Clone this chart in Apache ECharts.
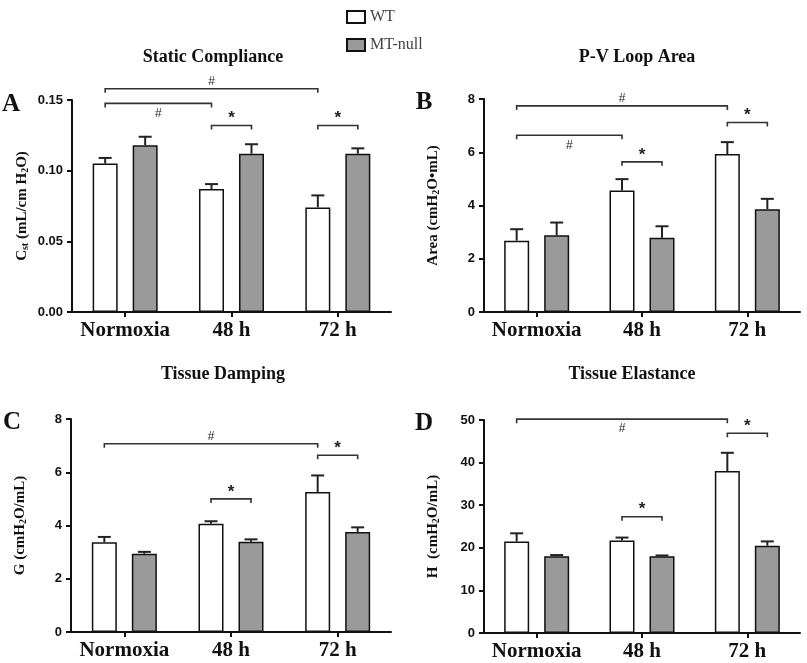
<!DOCTYPE html>
<html>
<head>
<meta charset="utf-8">
<script src="https://cdn.jsdelivr.net/npm/echarts@6/dist/echarts.min.js"></script>
<style>
	html,body{margin:0;padding:0;background:#fff;}
	#main{width:807px;height:663px;}
</style>
</head>
<body>
<div id="main"></div>
<script>
// 分组
var categories=["Normoxia","48 h","72 h"];
var seriesNames=["WT","MT-null"];

// A 静态顺应性
var cstWT=[0.105,0.087,0.074],
	cstWTErr=[0.004,0.0035,0.0085],
	cstMT=[0.118,0.112,0.112],
	cstMTErr=[0.006,0.0067,0.0038];
// B P-V环面积
var areaWT=[2.68,4.56,5.93],
	areaWTErr=[0.43,0.43,0.45],
	areaMT=[2.88,2.79,3.86],
	areaMTErr=[0.48,0.43,0.39];
// C 组织阻尼
var gWT=[3.37,4.07,5.26],
	gWTErr=[0.20,0.09,0.62],
	gMT=[2.94,3.39,3.76],
	gMTErr=[0.07,0.09,0.17];
// D 组织弹性
var hWT=[21.5,21.7,38.0],
	hWTErr=[1.9,0.7,4.3],
	hMT=[18.0,18.0,20.5],
	hMTErr=[0.3,0.2,1.0];

// 显著性括号: [起始组, 起始柱(0=WT,1=MT), 结束组, 结束柱, y值, 符号, 符号位置]
var bracketsA=[[0,0,2,0,0.158,"#","above"],[0,0,1,0,0.1476,"#","below"],[1,0,1,1,0.132,"*","above"],[2,0,2,1,0.132,"*","above"]];
var bracketsB=[[0,0,2,0,7.74,"#","above"],[0,0,1,0,6.64,"#","below"],[1,0,1,1,5.64,"*","above"],[2,0,2,1,7.12,"*","above"]];
var bracketsC=[[0,0,2,0,7.07,"#","above"],[1,0,1,1,5.0,"*","above"],[2,0,2,1,6.64,"*","above"]];
var bracketsD=[[0,0,2,0,50.2,"#","below"],[1,0,1,1,27.3,"*","above"],[2,0,2,1,46.9,"*","above"]];

// 坐标轴
var yTicksA={min:0,max:0.15,interval:0.05,fmt:function(v){return v.toFixed(2);}};
var yTicksB={min:0,max:8,interval:2};
var yTicksC={min:0,max:8,interval:2};
var yTicksD={min:0,max:50,interval:10};

var SERIF="'Liberation Serif','Times New Roman',serif";
var SANS="'Liberation Sans',Arial,sans-serif";
var BAR_W=25,BAR_OFF=20;

var panels=[
	{grid:{left:72,top:100,width:319,height:212},y:yTicksA,wt:cstWT,wtE:cstWTErr,mt:cstMT,mtE:cstMTErr,br:bracketsA,
		name:"{n|C}{s|st}{n| (mL/cm H}{s|2}{n|O)}",gap:42},
	{grid:{left:484,top:99,width:316,height:213},y:yTicksB,wt:areaWT,wtE:areaWTErr,mt:areaMT,mtE:areaMTErr,br:bracketsB,
		name:"{n|Area (cmH}{s|2}{n|O\u2022mL)}",gap:43},
	{grid:{left:71,top:419,width:320,height:213},y:yTicksC,wt:gWT,wtE:gWTErr,mt:gMT,mtE:gMTErr,br:bracketsC,
		name:"{n|G (cmH}{s|2}{n|O/mL)}",gap:43},
	{grid:{left:484,top:420,width:316,height:213},y:yTicksD,wt:hWT,wtE:hWTErr,mt:hMT,mtE:hMTErr,br:bracketsD,
		name:"{n|H  (cmH}{s|2}{n|O/mL)}",gap:43}
];

var grids=[],xAxes=[],yAxes=[],series=[];

panels.forEach(function(p,i){
	grids.push(p.grid);
	xAxes.push({
		type:"category",gridIndex:i,data:categories,
		axisLine:{lineStyle:{color:"#111",width:2}},
		axisTick:{show:true,alignWithLabel:true,length:5,lineStyle:{color:"#111",width:2}},
		axisLabel:{color:"#111",fontFamily:SERIF,fontWeight:"bold",fontSize:21,margin:8,interval:0,hideOverlap:false},
		splitLine:{show:false}
	});
	yAxes.push({
		type:"value",gridIndex:i,min:p.y.min,max:p.y.max,interval:p.y.interval,
		name:p.name,nameLocation:"middle",nameRotate:90,nameGap:p.gap,
		nameTextStyle:{rich:{
			n:{fontFamily:SERIF,fontWeight:"bold",fontSize:15,color:"#111"},
			s:{fontFamily:SERIF,fontWeight:"bold",fontSize:10,color:"#111",verticalAlign:"bottom",padding:[6,0,0,0]}
		}},
		axisLine:{show:true,lineStyle:{color:"#111",width:2}},
		axisTick:{show:true,length:5,lineStyle:{color:"#111",width:2}},
		axisLabel:{color:"#111",fontFamily:SANS,fontWeight:"bold",fontSize:13,margin:9,formatter:p.y.fmt},
		splitLine:{show:false}
	});
	series.push({
		name:"WT",type:"bar",xAxisIndex:i,yAxisIndex:i,data:p.wt,
		barWidth:BAR_W,barGap:"60%",
		itemStyle:{color:"#fff",borderColor:"#111",borderWidth:1.5}
	});
	series.push({
		name:"MT-null",type:"bar",xAxisIndex:i,yAxisIndex:i,data:p.mt,
		barWidth:BAR_W,barGap:"60%",
		itemStyle:{color:"#9a9a9a",borderColor:"#111",borderWidth:1.5}
	});
	// 误差线
	var errData=[];
	for(var k=0;k<categories.length;k++){
		errData.push([k,p.wt[k],p.wtE[k],0]);
		errData.push([k,p.mt[k],p.mtE[k],1]);
	}
	series.push({
		name:"err"+i,type:"custom",xAxisIndex:i,yAxisIndex:i,data:errData,
		encode:{x:0,y:1},z:3,silent:true,
		renderItem:function(params,api){
			var c=api.value(0),v=api.value(1),e=api.value(2),side=api.value(3);
			var p0=api.coord([c,v]),p1=api.coord([c,v+e]);
			var x=p0[0]+(side?BAR_OFF:-BAR_OFF);
			var st={stroke:"#222",lineWidth:2};
			return {type:"group",children:[
				{type:"line",shape:{x1:x,y1:p0[1],x2:x,y2:p1[1]},style:st},
				{type:"line",shape:{x1:x-6.5,y1:p1[1],x2:x+6.5,y2:p1[1]},style:st}
			]};
		}
	});
	// 显著性括号
	var br=p.br;
	series.push({
		name:"br"+i,type:"custom",xAxisIndex:i,yAxisIndex:i,
		data:br.map(function(b){return [b[0],b[4]];}),
		encode:{x:0,y:1},z:4,silent:true,clip:false,
		renderItem:function(params,api){
			var b=br[params.dataIndex];
			var a1=api.coord([b[0],b[4]]),a2=api.coord([b[2],b[4]]);
			var x1=a1[0]+(b[1]?BAR_OFF:-BAR_OFF),x2=a2[0]+(b[3]?BAR_OFF:-BAR_OFF),y=a1[1];
			var st={stroke:"#333",lineWidth:1.6,fill:null};
			var isStar=b[5]=="*";
			var ty=b[6]=="above"?y-7:y+10;
			return {type:"group",children:[
				{type:"polyline",shape:{points:[[x1,y+4],[x1,y],[x2,y],[x2,y+4]]},style:st},
				{type:"text",x:(x1+x2)/2,y:ty,style:{text:b[5],fill:"#222",
					font:isStar?"bold 17px "+SANS:"12px "+SANS,
					align:"center",verticalAlign:"middle"}}
			]};
		}
	});
});

var titleFont="bold 18px "+SERIF;
var letterFont="bold 25px "+SERIF;
function txt(t,x,y,font){
	return {type:"text",x:x,y:y,style:{text:t,font:font,fill:"#111",align:"center",verticalAlign:"middle"}};
}

var myChart=echarts.init(document.getElementById("main"));
var option={
	animation:false,
	backgroundColor:"#fff",
	legend:{
		data:seriesNames,orient:"vertical",left:341,top:4,
		icon:"rect",itemWidth:18,itemHeight:12,itemGap:12,
		textStyle:{color:"#444",fontFamily:SERIF,fontSize:16},
		selectedMode:false
	},
	grid:grids,
	xAxis:xAxes,
	yAxis:yAxes,
	series:series,
	graphic:[
		txt("Static Compliance",213,57,titleFont),
		txt("P-V Loop Area",637,57,titleFont),
		txt("Tissue Damping",223,374,titleFont),
		txt("Tissue Elastance",632,374,titleFont),
		txt("A",11,105,letterFont),
		txt("B",424,103,letterFont),
		txt("C",12,423,letterFont),
		txt("D",424,424,letterFont)
	]
};
myChart.setOption(option);
</script>
</body>
</html>
